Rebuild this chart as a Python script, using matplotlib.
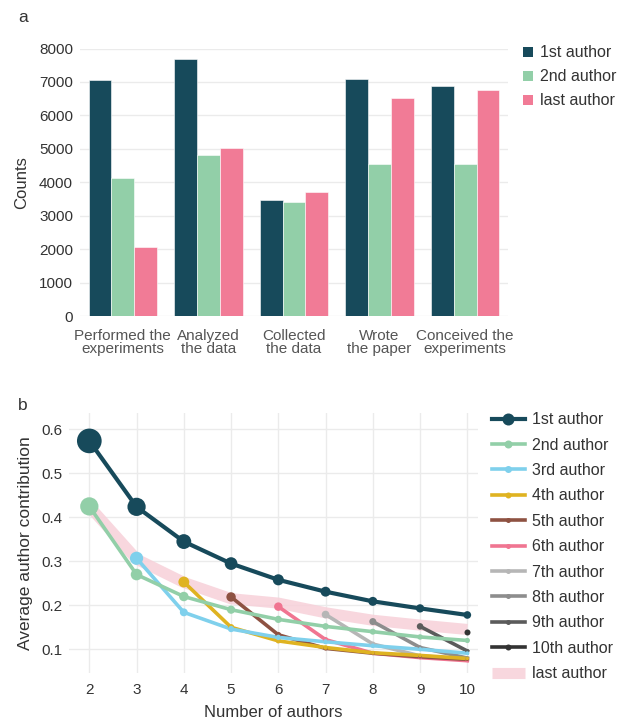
import numpy as np
import matplotlib
matplotlib.use("Agg")
import matplotlib.pyplot as plt
from matplotlib.lines import Line2D
from matplotlib.patches import Patch

plt.rcParams['font.family'] = ['Liberation Sans', 'DejaVu Sans']

# ---- panel a: contribution counts by role ----
tasks = ["Performed the\nexperiments", "Analyzed\nthe data", "Collected\nthe data",
         "Wrote\nthe paper", "Conceived the\nexperiments"]
first_counts = [7050, 7680, 3460, 7100, 6870]
second_counts = [4130, 4820, 3410, 4560, 4540]
last_counts = [2070, 5030, 3700, 6520, 6760]
bar_labels = ["1st author", "2nd author", "last author"]
bar_colors = ["#174a5b", "#92cfa8", "#f17b96"]
count_ticks = [0, 1000, 2000, 3000, 4000, 5000, 6000, 7000, 8000]

# ---- panel b: average contribution by author position ----
n_authors = [2, 3, 4, 5, 6, 7, 8, 9, 10]
pos_1 = [0.574, 0.424, 0.345, 0.295, 0.258, 0.231, 0.209, 0.193, 0.178]
pos_2 = [0.425, 0.270, 0.220, 0.190, 0.168, 0.152, 0.140, 0.128, 0.120]
pos_3 = [0.307, 0.184, 0.146, 0.127, 0.117, 0.108, 0.100, 0.091]
pos_4 = [0.253, 0.150, 0.119, 0.104, 0.092, 0.086, 0.079]
pos_5 = [0.219, 0.133, 0.102, 0.091, 0.083, 0.077]
pos_6 = [0.197, 0.122, 0.091, 0.081, 0.074]
pos_7 = [0.179, 0.112, 0.085, 0.077]
pos_8 = [0.163, 0.104, 0.080]
pos_9 = [0.152, 0.096]
pos_10 = [0.140]
last_author = [0.425, 0.305, 0.252, 0.215, 0.205, 0.183, 0.166, 0.155, 0.145]
pos_labels = ["1st author", "2nd author", "3rd author", "4th author", "5th author",
              "6th author", "7th author", "8th author", "9th author", "10th author"]
pos_colors = ["#174a5b", "#92cfa8", "#7fd0ec", "#dfb321", "#8e5242",
              "#f07591", "#b6b6b6", "#8d8d8d", "#5b5b5b", "#333333"]
last_color = "#f7d0d9"
legend_marker_px = [12, 8, 7, 6, 5, 5, 5, 5, 5, 6]

text_color = "#333333"
grid_color = "#ebebeb"

fig = plt.figure(figsize=(6.21, 7.19), dpi=100)
W, H = 621, 719


def axes_px(left, top, right, bottom):
    return fig.add_axes([left / W, 1 - bottom / H, (right - left) / W, (bottom - top) / H])


# ---------------- panel a ----------------
ax1 = axes_px(80, 48.5, 508, 316)
x = np.arange(len(tasks))
bw = 0.266
for i, (vals, lab, col) in enumerate(zip([first_counts, second_counts, last_counts],
                                         bar_labels, bar_colors)):
    ax1.bar(x + (i - 1) * bw, vals, width=bw, color=col, label=lab,
            edgecolor="white", linewidth=0.4, zorder=3)
ax1.set_xlim(-0.5, len(tasks) - 0.5)
ax1.set_ylim(0, 8000)
ax1.set_yticks(count_ticks)
ax1.set_yticklabels([str(t) for t in count_ticks])
ax1.set_xticks(x)
ax1.set_xticklabels(tasks, linespacing=0.95)
ax1.yaxis.grid(True, color=grid_color, linewidth=1.0, zorder=0)
for s in ax1.spines.values():
    s.set_visible(False)
ax1.tick_params(axis="y", length=0, labelsize=11, colors=text_color, pad=5)
ax1.tick_params(axis="x", length=0, labelsize=11, colors="#555555", pad=9)
ax1.set_ylabel("Counts", fontsize=12, color=text_color, labelpad=7)
handles_a = [Patch(facecolor=c, edgecolor="none") for c in bar_colors]
ax1.legend(handles_a, bar_labels, loc="upper left", bbox_to_anchor=(1.001, 1.065),
           frameon=False, fontsize=11.5, handlelength=0.625, handleheight=0.625,
           handletextpad=0.44, labelspacing=0.56, labelcolor=text_color)
fig.text(18 / W, 1 - 17 / H, "a", fontsize=12.5, color=text_color, va="center", ha="left")

# ---------------- panel b ----------------
ax2 = axes_px(69, 413, 478, 673)
ax2.plot(n_authors, last_author, color=last_color, linewidth=8, alpha=0.85,
         solid_capstyle="butt", zorder=1)

series = [pos_1, pos_2, pos_3, pos_4, pos_5, pos_6, pos_7, pos_8, pos_9, pos_10]
for k, (vals, col) in enumerate(zip(series, pos_colors)):
    start = max(k - 1, 0)
    xs = n_authors[start:start + len(vals)]
    lw = 3.0 if k == 0 else 2.6
    z = 3 + (10 - k) * 0.01
    ax2.plot(xs, vals, color=col, linewidth=lw, zorder=z)
    diam_pt = 43 * np.array(vals) * 0.72
    ax2.scatter(xs, vals, s=diam_pt ** 2, color=col, zorder=z + 0.5, linewidths=0)

ax2.set_xlim(1.57, 10.226)
ax2.set_ylim(0.046, 0.6375)
ax2.set_xticks(n_authors)
ax2.set_yticks([0.1, 0.2, 0.3, 0.4, 0.5, 0.6])
ax2.set_yticklabels(["0.1", "0.2", "0.3", "0.4", "0.5", "0.6"])
ax2.grid(True, color=grid_color, linewidth=1.0, zorder=0)
ax2.set_axisbelow(True)
for s in ax2.spines.values():
    s.set_visible(False)
ax2.tick_params(axis="both", length=0, labelsize=11, colors=text_color)
ax2.tick_params(axis="x", pad=7)
ax2.tick_params(axis="y", pad=5)
ax2.set_xlabel("Number of authors", fontsize=12, color=text_color, labelpad=6)
ax2.set_ylabel("Average author contribution", fontsize=12.5, color=text_color, labelpad=6)

handles_b = []
for k, col in enumerate(pos_colors):
    handles_b.append(Line2D([0], [0], color=col, linewidth=3 if k == 0 else 2.6,
                            marker="o", markersize=legend_marker_px[k] * 0.72,
                            markeredgewidth=0))
handles_b.append(Line2D([0], [0], color=last_color, linewidth=8, alpha=0.85,
                        solid_capstyle="butt"))
ax2.legend(handles_b, pos_labels + ["last author"], loc="upper left",
           bbox_to_anchor=(0.999, 1.058), frameon=False, fontsize=11.5,
           handlelength=2.06, handletextpad=0.44, labelspacing=0.65,
           labelcolor=text_color)
fig.text(18 / W, 1 - 405 / H, "b", fontsize=12.5, color=text_color, va="center", ha="left")

fig.savefig("out.png", dpi=100)
